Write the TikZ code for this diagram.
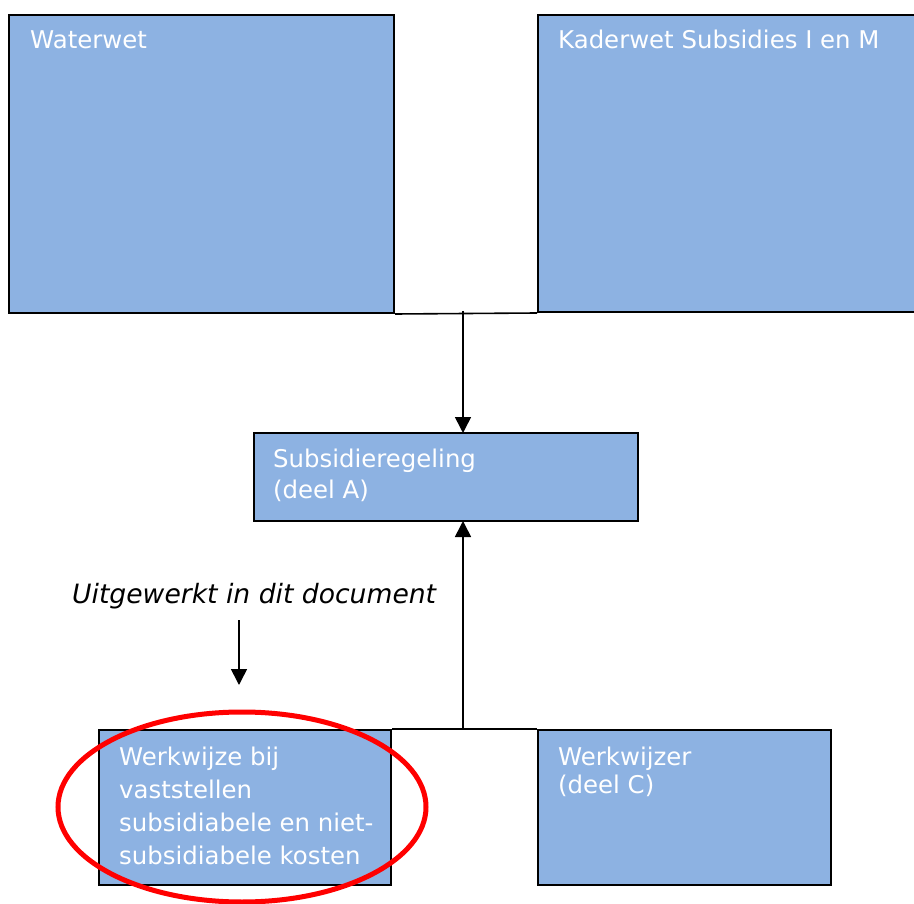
\documentclass[tikz,border=0pt]{standalone}
\usepackage{fontspec}
\setmainfont{DejaVu Sans}
\usetikzlibrary{arrows.meta,calc,shapes.geometric}
\definecolor{boxblue}{HTML}{8DB2E2}
\definecolor{ringred}{HTML}{FF0000}
\begin{document}
\begin{tikzpicture}[x=1pt,y=-1pt,
  box/.style={draw=black, line width=2pt, fill=boxblue, inner sep=0pt, anchor=north west},
  lbl/.style={anchor=base west, inner sep=0pt, text=white},
  link/.style={draw=black, line width=1.6pt},
  arr/.style={link, -{Triangle[width=16pt,length=16pt]}, shorten >=-1pt}]
\useasboundingbox (0,0) rectangle (914,904);
% boxes
\node[box, minimum width=385pt, minimum height=298pt] (wat) at (8,14) {};
\node[box, minimum width=380pt, minimum height=297pt] (kad) at (537,14) {};
\node[box, minimum width=384pt, minimum height=88pt] (sub) at (253,432) {};
\node[box, minimum width=292pt, minimum height=155pt] (wk) at (98,729) {};
\node[box, minimum width=293pt, minimum height=155pt] (wz) at (537,729) {};
% labels
\node[lbl, font=\fontsize{24.4}{24.4}\selectfont] (twat) at (30,49) {Waterwet};
\node[lbl, font=\fontsize{24.4}{24.4}\selectfont] (tkad) at (558,49) {Kaderwet Subsidies I en M};
\node[lbl, font=\fontsize{24.4}{32}\selectfont] (tsub) at (273,467)
  {\vtop{\hbox{Subsidieregeling}\hbox{(deel A)}}};
\node[lbl, font=\fontsize{24.4}{33.3}\selectfont] (twk) at (119,765)
  {\vtop{\hbox{Werkwijze bij}\hbox{vaststellen}\hbox{subsidiabele en niet-}\hbox{subsidiabele kosten}}};
\node[lbl, font=\fontsize{24.4}{28}\selectfont] (twz) at (558,765)
  {\vtop{\hbox{Werkwijzer}\hbox{(deel C)}}};
\node[anchor=base west, inner sep=0pt, font=\fontsize{26.6}{26.6}\selectfont\itshape] (uit) at (72,603)
  {Uitgewerkt in dit document};
% connectors
\draw[link] (wat.south east) -- (kad.south west);
\coordinate (j1) at (463,311);
\draw[arr] (j1) -- (j1 |- sub.north);
\draw[link] (wk.north east) -- (wz.north west);
\coordinate (j2) at (463,729);
\draw[arr] (j2) -- (j2 |- sub.south);
\coordinate (a1) at (239,620);
\coordinate (a2) at (239,684);
\draw[arr] (a1) -- (a2);
% ring
\node[ellipse, draw=ringred, line width=5pt, minimum width=368pt, minimum height=190pt, inner sep=0pt] (ring) at (242,807) {};
\end{tikzpicture}
\end{document}
